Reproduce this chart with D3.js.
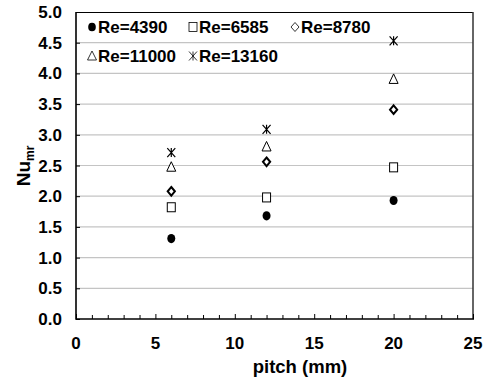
<!DOCTYPE html>
<html><head><meta charset="utf-8">
<script src="https://cdn.jsdelivr.net/npm/d3@7"></script>
<style>
html,body{margin:0;padding:0;background:#fff;}
svg{display:block;font-family:"Liberation Sans",Arial,sans-serif;}
</style></head>
<body><svg id="c" width="490" height="381"></svg>
<script>
const pitch = [6, 12, 20];
const seriesNames = ["Re=4390", "Re=6585", "Re=8780", "Re=11000", "Re=13160"];
const re4390  = [1.31, 1.68, 1.93];
const re6585  = [1.82, 1.98, 2.47];
const re8780  = [2.08, 2.56, 3.41];
const re11000 = [2.48, 2.81, 3.91];
const re13160 = [2.71, 3.09, 4.53];
const seriesValues = [re4390, re6585, re8780, re11000, re13160];
const markerTypes = ["circle", "square", "diamond", "triangle", "star"];
const xTicks = [0, 5, 10, 15, 20, 25];
const yTicks = [0, 0.5, 1, 1.5, 2, 2.5, 3, 3.5, 4, 4.5, 5];
const xLabel = "pitch (mm)";

const svg = d3.select("#c");
const L = 76, R = 473, T = 12, B = 319;
const x = d3.scaleLinear().domain([0, 25]).range([L, R]);
const y = d3.scaleLinear().domain([0, 5]).range([B, T]);

// gridlines
svg.append("g").selectAll("line").data(yTicks.filter(v => v > 0 && v < 5)).join("line")
  .attr("x1", L).attr("x2", R).attr("y1", d => y(d)).attr("y2", d => y(d))
  .attr("stroke", "#c4c4c4").attr("stroke-width", 1.2);

// border top/right
svg.append("line").attr("x1", L).attr("x2", R).attr("y1", T + 0.5).attr("y2", T + 0.5).attr("stroke", "#000").attr("stroke-width", 1);
svg.append("line").attr("x1", R).attr("x2", R).attr("y1", T).attr("y2", B).attr("stroke", "#333").attr("stroke-width", 1.5);

// x axis
const xAxis = d3.axisBottom(x).tickValues(d3.range(0, 26, 1)).tickSize(0).tickFormat("");
const gx = svg.append("g").attr("transform", `translate(0,${B})`).call(xAxis);
gx.select(".domain").remove();
gx.selectAll(".tick line").attr("y2", d => d % 5 === 0 ? -5 : -4).attr("stroke", "#000").attr("stroke-width", 1);
svg.append("line").attr("x1", L).attr("x2", R + 1).attr("y1", B).attr("y2", B).attr("stroke", "#000").attr("stroke-width", 1.6);
svg.append("g").selectAll("text").data(xTicks).join("text")
  .attr("x", d => x(d)).attr("y", 349).attr("text-anchor", "middle")
  .attr("font-weight", "bold").attr("font-size", 17).text(d => d);
svg.append("text").attr("x", 300).attr("y", 373).attr("text-anchor", "middle")
  .attr("font-weight", "bold").attr("font-size", 18.5).text(xLabel);

// y axis
const yAxis = d3.axisLeft(y).tickValues(yTicks).tickSize(0).tickFormat("");
const gy = svg.append("g").attr("transform", `translate(${L},0)`).call(yAxis);
gy.select(".domain").remove();
gy.selectAll(".tick line").attr("x2", 4).attr("stroke", "#000").attr("stroke-width", 1);
svg.append("line").attr("x1", L).attr("x2", L).attr("y1", T).attr("y2", B + 0.8).attr("stroke", "#000").attr("stroke-width", 1.6);
svg.append("g").selectAll("text").data(yTicks).join("text")
  .attr("x", 62).attr("y", d => y(d) + 6).attr("text-anchor", "end")
  .attr("font-weight", "bold").attr("font-size", 17).text(d => d3.format(".1f")(d));

// y label
const yl = svg.append("text").attr("transform", "translate(30,166) rotate(-90)")
  .attr("text-anchor", "middle").attr("font-weight", "bold").attr("font-size", 19);
yl.append("tspan").text("Nu");
yl.append("tspan").attr("font-size", 12).attr("dy", 4).text("mr");

// markers
function drawMarker(g, type, cx, cy) {
  if (type === "circle") {
    g.append("ellipse").attr("cx", cx).attr("cy", cy).attr("rx", 4).attr("ry", 4.6).attr("fill", "#000");
  } else if (type === "square") {
    g.append("rect").attr("x", cx - 4).attr("y", cy - 4.5).attr("width", 8).attr("height", 9)
      .attr("fill", "#fff").attr("stroke", "#000").attr("stroke-width", 1);
  } else if (type === "diamond") {
    g.append("path").attr("d", `M${cx},${cy - 4.3}L${cx + 3.6},${cy}L${cx},${cy + 4.3}L${cx - 3.6},${cy}Z`)
      .attr("fill", "#fff").attr("stroke", "#000").attr("stroke-width", 2);
  } else if (type === "triangle") {
    g.append("path").attr("d", `M${cx},${cy - 5}L${cx + 4.5},${cy + 4.5}L${cx - 4.5},${cy + 4.5}Z`)
      .attr("fill", "#fff").attr("stroke", "#000").attr("stroke-width", 1);
  } else if (type === "star") {
    g.append("path").attr("d", `M${cx - 4},${cy - 4.5}L${cx + 4},${cy + 4.5}M${cx + 4},${cy - 4.5}L${cx - 4},${cy + 4.5}M${cx},${cy - 4.5}L${cx},${cy + 4.5}`)
      .attr("fill", "none").attr("stroke", "#000").attr("stroke-width", 1.2);
  }
}
function drawLegendMarker(g, type, cx, cy) {
  if (type === "circle") {
    g.append("ellipse").attr("cx", cx).attr("cy", cy).attr("rx", 3.8).attr("ry", 4.3).attr("fill", "#000");
  } else if (type === "square") {
    g.append("rect").attr("x", cx - 4).attr("y", cy - 4.5).attr("width", 8).attr("height", 9)
      .attr("fill", "#fff").attr("stroke", "#000").attr("stroke-width", 0.8);
  } else if (type === "diamond") {
    g.append("path").attr("d", `M${cx},${cy - 4.5}L${cx + 4},${cy}L${cx},${cy + 4.5}L${cx - 4},${cy}Z`)
      .attr("fill", "#fff").attr("stroke", "#000").attr("stroke-width", 0.8);
  } else if (type === "triangle") {
    g.append("path").attr("d", `M${cx},${cy - 5}L${cx + 4.5},${cy + 4}L${cx - 4.5},${cy + 4}Z`)
      .attr("fill", "#fff").attr("stroke", "#000").attr("stroke-width", 0.8);
  } else if (type === "star") {
    g.append("path").attr("d", `M${cx - 4},${cy - 4.5}L${cx + 4},${cy + 4.5}M${cx + 4},${cy - 4.5}L${cx - 4},${cy + 4.5}M${cx},${cy - 4.5}L${cx},${cy + 4.5}`)
      .attr("fill", "none").attr("stroke", "#000").attr("stroke-width", 0.8);
  }
}

const gm = svg.append("g");
seriesValues.forEach((vals, si) => {
  vals.forEach((v, i) => drawMarker(gm, markerTypes[si], x(pitch[i]), y(v)));
});

// legend
const legPos = [[92, 27], [193, 27], [295, 27], [92, 56], [193, 56]];
const gl = svg.append("g");
seriesNames.forEach((n, i) => {
  const [lx, ly] = legPos[i];
  drawLegendMarker(gl, markerTypes[i], lx, ly);
  gl.append("text").attr("x", lx + 6).attr("y", ly + 6).attr("font-weight", "bold")
    .attr("font-size", 17).text(n);
});
</script></body></html>
